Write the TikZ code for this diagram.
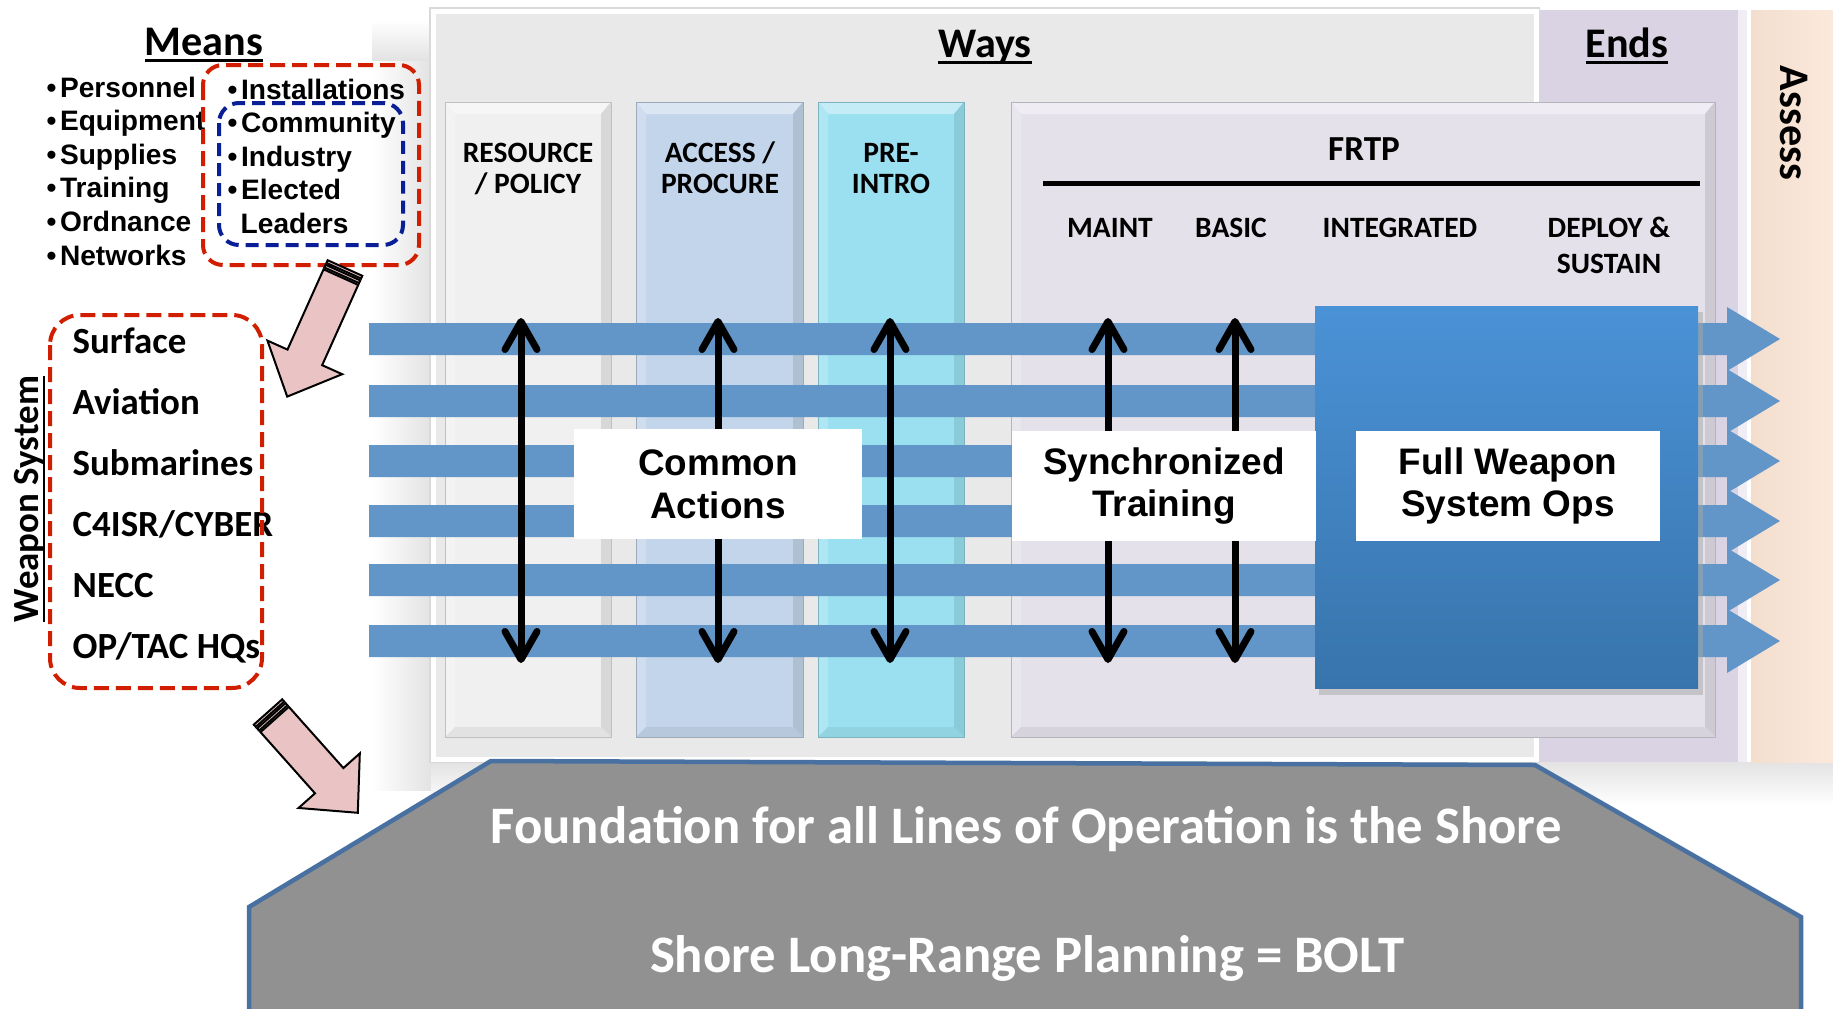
\documentclass[tikz,border=0pt]{standalone}
\usepackage{fontspec}
\setmainfont{Liberation Sans}
\newfontfamily\calib{Carlito}
\usetikzlibrary{arrows.meta}

\definecolor{panelgrey}{RGB}{233,233,233}
\definecolor{colgrey}{RGB}{240,240,240}
\definecolor{colblue}{RGB}{195,213,235}
\definecolor{colcyan}{RGB}{155,224,240}
\definecolor{collav}{RGB}{228,225,234}
\definecolor{endslav}{RGB}{217,211,227}
\definecolor{peachl}{RGB}{243,222,206}
\definecolor{peachr}{RGB}{251,233,220}
\definecolor{barblue}{RGB}{99,150,200}
\definecolor{opstop}{RGB}{74,146,214}
\definecolor{opsbot}{RGB}{56,116,172}
\definecolor{shoregrey}{RGB}{145,145,145}
\definecolor{shoreedge}{RGB}{72,112,160}
\definecolor{dashred}{RGB}{210,30,0}
\definecolor{dashblue}{RGB}{10,30,150}
\definecolor{pinkfill}{RGB}{234,196,196}

\newsavebox\ulbox
\newcommand{\thickul}[1]{\sbox\ulbox{#1}\rlap{\rule[-0.17em]{\wd\ulbox}{0.075em}}\usebox\ulbox}

% column with a bevelled edge: x1,y1,x2,y2,colour
\newcommand{\bevelcol}[5]{%
  \fill[#5] (#1,#2) rectangle (#3,#4);
  \fill[#5!60!white] (#1,#2) -- (#3,#2) -- ([shift={(-10,12)}]#3,#2) -- ([shift={(10,12)}]#1,#2) -- cycle;
  \fill[#5!80!white] (#1,#2) -- ([shift={(10,12)}]#1,#2) -- ([shift={(10,-10)}]#1,#4) -- (#1,#4) -- cycle;
  \fill[#5!90!black] (#3,#2) -- ([shift={(-10,12)}]#3,#2) -- ([shift={(-10,-10)}]#3,#4) -- (#3,#4) -- cycle;
  \fill[#5!94!black] (#1,#4) -- (#3,#4) -- ([shift={(-10,-10)}]#3,#4) -- ([shift={(10,-10)}]#1,#4) -- cycle;
  \draw[#5!80!black, line width = 0.1mm] (#1,#2) rectangle (#3,#4);
}

\begin{document}
\begin{tikzpicture}[x=0.1mm, y=-0.1mm,
    headtxt/.style={font=\calib\bfseries\fontsize{12}{14}\selectfont, anchor=base, inner sep=0pt},
    coltxt/.style={font=\calib\bfseries\fontsize{8.4}{8.8}\selectfont, anchor=base, align=center, inner sep=0pt},
    listtxt/.style={font=\bfseries\fontsize{8}{9}\selectfont, anchor=base west, inner sep=0pt},
    weptxt/.style={font=\calib\bfseries\fontsize{10.5}{12}\selectfont, anchor=base west, inner sep=0pt},
    opslabel/.style={fill=white, inner sep=0pt, minimum height=11mm, align=center, font=\bfseries\fontsize{10.5}{12.2}\selectfont},
    shoretxt/.style={font=\calib\bfseries\fontsize{15}{18}\selectfont, text=white, anchor=base, inner sep=0pt},
    reddash/.style={draw=dashred, line width = 0.4mm, dash pattern=on 1.5mm off 0.7mm},
    bluedash/.style={draw=dashblue, line width = 0.4mm, dash pattern=on 1.3mm off 0.7mm},
    pinkblock/.style={fill=pinkfill, draw=black, line width = 0.2mm},
    syncarrow/.style={line width = 0.7mm, >={Straight Barb[length=2.8mm,width=3.2mm,round]}, <->},
    pinkarrow/.pic={
      \filldraw[pinkblock] (10,-19) -- (#1-43,-19) -- (#1-43,-41) -- (#1,0) -- (#1-43,41) -- (#1-43,19) -- (10,19) -- cycle;
      \filldraw[pinkblock] (0,-19) rectangle (3,19);
      \filldraw[pinkblock] (5,-19) rectangle (8,19);
    }]
\useasboundingbox (0,0) rectangle (1833,1009);

% shadow round the panels
\shade[left color=white, right color=black!11] (372,60) rectangle (431,790);
\shade[top color=white, bottom color=black!11] (372,20) rectangle (431,60);
\shade[top color=black!11, bottom color=white] (431,762) rectangle (1833,805);

% panels
\fill[endslav] (1539,10) rectangle (1749,762);
\fill[endslav!40!white] (1738,10) rectangle (1747,762);
\shade[left color=peachl, right color=peachr] (1749,10) rectangle (1833,762);
\fill[white] (1747,10) rectangle (1751,762);
\draw[black!15, line width = 0.15mm] (430,8) rectangle (1539,762);
\filldraw[fill=panelgrey, draw=white, line width = 0.5mm] (433,11) rectangle (1536,759);

% columns
\bevelcol{445}{102}{611}{737}{colgrey}
\bevelcol{636}{102}{803}{737}{colblue}
\bevelcol{818}{102}{964}{737}{colcyan}
\bevelcol{1011}{102}{1715}{737}{collav}

% headings
\node[headtxt] (ways) at (985,57) {\thickul{Ways}};
\node[headtxt] (ends) at (1627,57) {\thickul{Ends}};
\node[headtxt, rotate=-90] (assess) at (1780,123) {Assess};

\node[coltxt] (respol) at (528,193) {RESOURCE\\/ POLICY};
\node[coltxt] (accproc) at (720,193) {ACCESS /\\PROCURE};
\node[coltxt] (preintro) at (891,193) {PRE-\\INTRO};
\node[coltxt, font=\calib\bfseries\fontsize{10}{12}\selectfont] (frtp) at (1364,160) {FRTP};
\draw[line width = 0.5mm] (1043,183) -- (1700,183);
\node[coltxt] (maint) at (1110,237) {MAINT};
\node[coltxt] (basic) at (1231,237) {BASIC};
\node[coltxt] (integ) at (1400,237) {INTEGRATED};
\node[coltxt, font=\calib\bfseries\fontsize{8.4}{10.2}\selectfont] (deploy) at (1609,273) {DEPLOY \&\\SUSTAIN};

% lines of operation
\foreach \y in {339,401,461,521,580,641}
  \fill[barblue] (369,\y-16) -- (1727,\y-16) -- (1727,\y-32) -- (1780,\y) -- (1727,\y+32) -- (1727,\y+16) -- (369,\y+16) -- cycle;

% full weapon system block
\fill[black!35, opacity=0.5] (1319,312) rectangle (1703,695);
\shade[top color=opstop, bottom color=opsbot] (1315,306) rectangle (1698,688);

% sync arrows
\foreach \x [count=\i] in {521,718,890,1108,1235} {
  \coordinate (top\i) at (\x,318);
  \coordinate (bot\i) at (\x,663);
  \draw[syncarrow] (top\i) -- (bot\i);
}

\node[opslabel, minimum width=28.8mm] (common) at (718,484) {Common\\Actions};
\node[opslabel, minimum width=30.4mm] (sync) at (1164,486) {Synchronized\\Training};
\node[opslabel, minimum width=30.4mm] (fullops) at (1508,486) {Full Weapon\\System Ops};

% shore foundation
\filldraw[fill=shoregrey, draw=shoreedge, line width = 0.45mm] (491,761) -- (1535,765) -- (1801,917) -- (1801,1030) -- (249,1030) -- (249,907) -- cycle;
\node[shoretxt] (shore1) at (1026,843) {Foundation for all Lines of Operation is the Shore};
\node[shoretxt] (shore2) at (1027,972) {Shore Long-Range Planning = BOLT};

% means
\node[headtxt] (means) at (204,55) {\thickul{Means}};
\foreach \w [count=\i from 0] in {Personnel,Equipment,Supplies,Training,Ordnance,Networks}
  \node[listtxt] (mean\i) at (46,97+33.6*\i) {\textbullet\hspace{1pt}\w};
\foreach \w [count=\i from 0] in {Installations,Community,Industry,Elected}
  \node[listtxt] (shore\i) at (227,99+33.6*\i) {\textbullet\hspace{1pt}\w};
\node[listtxt] (leaders) at (240,233) {Leaders};
\draw[reddash, rounded corners=2mm] (203,65) rectangle (419,265);
\draw[bluedash, rounded corners=2mm] (219,103) rectangle (403,245);

% weapon systems
\node[headtxt, rotate=90, font=\calib\bfseries\fontsize{10.5}{12}\selectfont] (wsys) at (39,499) {\thickul{Weapon System}};
\foreach \w [count=\i from 0] in {Surface,Aviation,Submarines,C4ISR/CYBER,NECC,OP/TAC HQs}
  \node[weptxt] (wep\i) at (72,353+61*\i) {\w};
\draw[reddash, rounded corners=3mm] (50,315) rectangle (262,688);

% block arrows
\pic[rotate=-114.2] at (345,268) {pinkarrow=141};
\pic[rotate=-48.3] at (268,712) {pinkarrow=135};
\end{tikzpicture}
\end{document}
